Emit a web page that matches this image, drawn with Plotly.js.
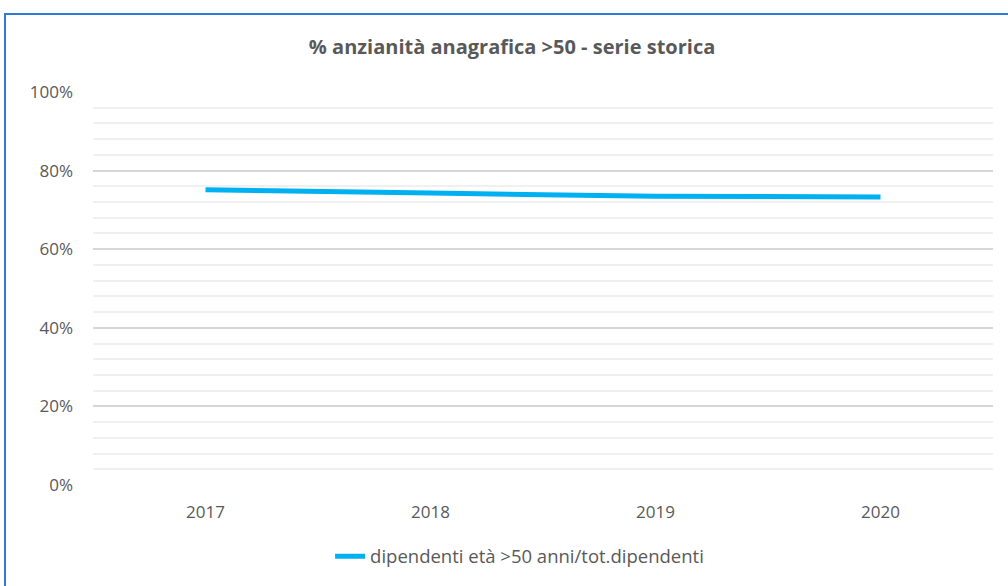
<!DOCTYPE html>
<html>
<head>
<meta charset="utf-8">
<script src="https://cdn.plot.ly/plotly-3.0.1.min.js"></script>
<style>
  body { margin: 0; background: #fff; }
  #chart { position: absolute; left: 0; top: 0; width: 1008px; height: 586px; }
  #frame { position: absolute; left: 4px; top: 13px; width: 1020px; height: 600px;
           border: 2px solid #2f7bd6; pointer-events: none; }
</style>
</head>
<body>
<div id="chart"></div>
<div id="frame"></div>
<script>
const years = ["2017", "2018", "2019", "2020"];
const share = [0.751, 0.743, 0.735, 0.733];
const seriesName = "dipendenti età >50 anni/tot.dipendenti";
const chartTitle = "% anzianità anagrafica >50 - serie storica";

const font = "Open Sans, Liberation Sans, sans-serif";

const trace = {
  x: years,
  y: share,
  name: seriesName,
  type: 'scatter',
  mode: 'lines',
  line: { color: '#00b0f0', width: 5, shape: 'spline', smoothing: 0.6 },
  showlegend: true,
};

const layout = {
  width: 1008,
  height: 586,
  margin: { l: 93, r: 15, t: 92, b: 101 },
  paper_bgcolor: '#fff',
  plot_bgcolor: '#fff',
  font: { family: font, color: '#595959', size: 17 },
  title: {
    text: "<b>" + chartTitle + "</b>",
    font: { family: font, size: 20, color: '#595959' },
    x: 0.508, xanchor: 'center',
    y: 0.92, yref: 'container', yanchor: 'middle'
  },
  xaxis: {
    type: 'category',
    range: [-0.5, 3.5],
    showgrid: false,
    zeroline: false,
    showline: false,
    ticks: '',
    ticklabelstandoff: 15,
    tickfont: { size: 17, color: '#595959' }
  },
  yaxis: {
    range: [0, 1],
    dtick: 0.2,
    tickformat: '.0%',
    gridcolor: '#d6d6d6',
    gridwidth: 1.5,
    zeroline: false,
    showline: false,
    ticks: '',
    ticklabelstandoff: 19,
    tickfont: { size: 17, color: '#595959' },
    minor: { dtick: 0.04, showgrid: true, gridcolor: '#f0f0f0', gridwidth: 1.5 }
  },
  showlegend: true,
  legend: {
    orientation: 'h',
    x: 0.474, xanchor: 'center',
    y: 0.05, yref: 'container', yanchor: 'middle',
    font: { size: 18.5, color: '#595959' }
  }
};

Plotly.newPlot(document.getElementById('chart'), [trace], layout, { displayModeBar: false });
</script>
</body>
</html>
